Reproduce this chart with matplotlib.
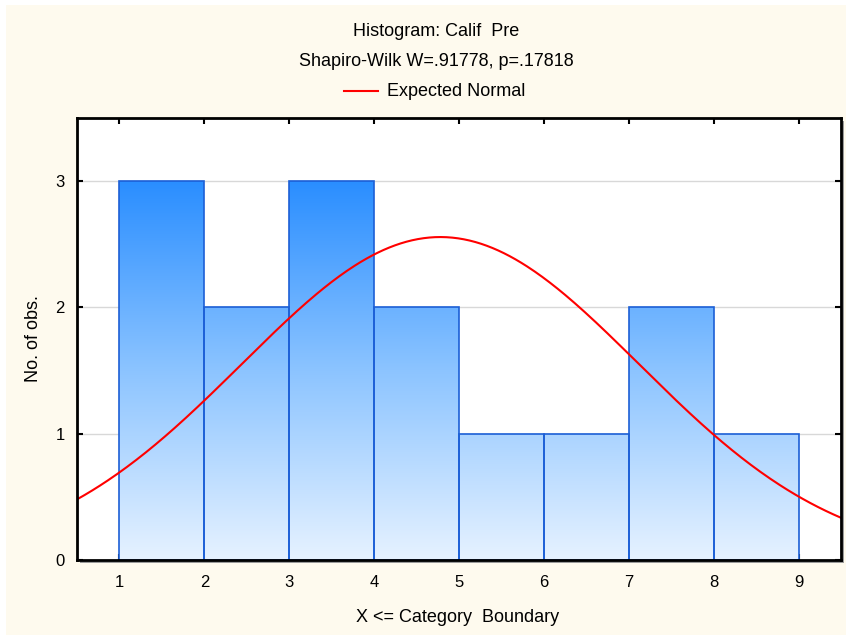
import numpy as np
import matplotlib
matplotlib.use("Agg")
import matplotlib.pyplot as plt
from matplotlib.patches import Rectangle
from matplotlib.colors import LinearSegmentedColormap

plt.rcParams['font.family'] = ['Liberation Sans', 'DejaVu Sans']

# Histogram data: category upper boundaries and counts per class
bin_edges = [1, 2, 3, 4, 5, 6, 7, 8, 9]
counts = [3, 2, 3, 2, 1, 1, 2, 1]
x_ticks = [1, 2, 3, 4, 5, 6, 7, 8, 9]
y_ticks = [0, 1, 2, 3]
n_obs = 15
sample_mean = 4.78
sample_sd = 2.34

title_text = "Histogram: Calif  Pre"
subtitle_text = "Shapiro-Wilk W=.91778, p=.17818"
legend_text = "Expected Normal"
x_label = "X <= Category  Boundary"
y_label = "No. of obs."

W, H = 846, 635
FS = 13
TICK_FS = 12
fig = plt.figure(figsize=(W / 100, H / 100), dpi=100)
fig.patch.set_facecolor("white")
cream = "#FEFAEE"
fig.add_artist(Rectangle((6 / W, 0), 1 - 6 / W, 1 - 5 / H, transform=fig.transFigure,
                         facecolor=cream, edgecolor="none", zorder=-10))

ax_l, ax_r, ax_t, ax_b = 77, 841, 118, 560
ax = fig.add_axes([ax_l / W, 1 - ax_b / H, (ax_r - ax_l) / W, (ax_b - ax_t) / H])
ax.set_facecolor("white")

# drop shadow to the right/bottom of the plot frame
shadow = Rectangle(((ax_l + 3) / W, 1 - (ax_b + 3) / H), (ax_r - ax_l) / W, (ax_b - ax_t) / H,
                   transform=fig.transFigure, facecolor="#9a9a9a", edgecolor="none", zorder=-5)
fig.add_artist(shadow)

# gradient fill, dark at top of tallest bar, light at the base
cmap = LinearSegmentedColormap.from_list("bars", ["#E6F2FF", "#8CC4FF", "#2A8EFF"])
grad = np.linspace(0, 1, 256).reshape(-1, 1)
for left, right, c in zip(bin_edges[:-1], bin_edges[1:], counts):
    im = ax.imshow(grad, extent=[left, right, 0, max(counts)], origin="lower",
                   cmap=cmap, aspect="auto", zorder=2, interpolation="bicubic")
    rect = Rectangle((left, 0), right - left, c, facecolor="none",
                     edgecolor="#1C5FD6", linewidth=1.2, zorder=3)
    ax.add_patch(rect)
    im.set_clip_path(rect)
ax.set_xlim(0.5, 9.5)
ax.set_ylim(0, 3.5)

# expected normal frequencies
xs = np.linspace(0.5, 9.5, 400)
width = bin_edges[1] - bin_edges[0]
ys = n_obs * width / (sample_sd * np.sqrt(2 * np.pi)) * np.exp(-0.5 * ((xs - sample_mean) / sample_sd) ** 2)
ax.plot(xs, ys, color="#FF0000", linewidth=1.5, zorder=4)

for y in y_ticks[1:]:
    ax.axhline(y, color="#D8D8D8", linewidth=1.0, zorder=1)

ax.set_xticks(x_ticks)
ax.set_yticks(y_ticks)
ax.tick_params(axis="both", direction="in", length=4, width=1.5, labelsize=TICK_FS,
               top=True, right=True, pad=9, colors="black")
ax.tick_params(axis="x", pad=11)
for s in ax.spines.values():
    s.set_linewidth(2)
    s.set_color("black")
    s.set_zorder(6)

cx = 436 / W
fig.text(cx, 1 - 31 / H, title_text, ha="center", va="center", fontsize=FS)
fig.text(cx, 1 - 61 / H, subtitle_text, ha="center", va="center", fontsize=FS)
fig.add_artist(plt.Line2D([344 / W, 378 / W], [1 - 91 / H, 1 - 91 / H], color="#FF0000",
                          linewidth=1.5, transform=fig.transFigure))
fig.text(387 / W, 1 - 91 / H, legend_text, ha="left", va="center", fontsize=FS)
fig.text(458 / W, 1 - 618 / H, x_label, ha="center", va="center", fontsize=FS)
fig.text(33 / W, 1 - 339 / H, y_label, ha="center", va="center", rotation=90, fontsize=FS)

fig.savefig("out.png", dpi=100, facecolor=fig.get_facecolor())
